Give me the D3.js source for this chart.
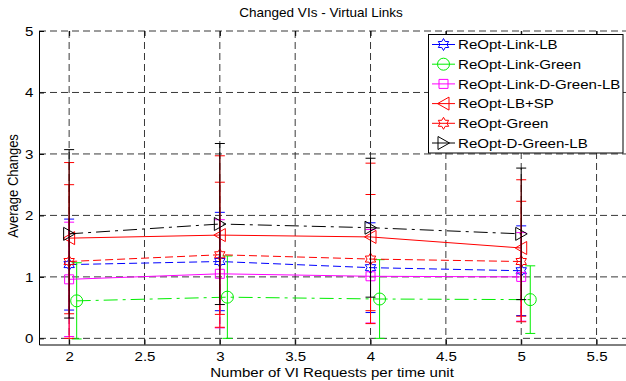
<!DOCTYPE html>
<html>
<head>
<meta charset="utf-8">
<script src="https://cdn.jsdelivr.net/npm/d3@7"></script>
<style>
  body { margin: 0; background: #fff; }
  svg { display: block; font-family: "Liberation Sans", Arial, sans-serif; }
  .grid line { stroke: #222; stroke-dasharray: 7,4; stroke-width: 0.9; }
</style>
</head>
<body>
<svg id="chart" width="626" height="381"></svg>
<script>
// chart values
var xTicks = [2, 2.5, 3, 3.5, 4, 4.5, 5, 5.5];
var yTicks = [0, 1, 2, 3, 4, 5];
var requests = [2, 3, 4, 5];
var requestsShifted = [2.05, 3.05, 4.06, 5.06];

var seriesNames = ["ReOpt-Link-LB", "ReOpt-Link-Green", "ReOpt-Link-D-Green-LB",
                   "ReOpt-LB+SP", "ReOpt-Green", "ReOpt-D-Green-LB"];

var linkLbMean = [1.20, 1.25, 1.15, 1.10];
var linkLbErr = [0.74, 0.80, 0.73, 0.73];
var linkGreenMean = [0.61, 0.67, 0.64, 0.63];
var linkGreenErr = [0.62, 0.67, 0.64, 0.55];
var linkDGreenLbMean = [0.96, 1.05, 1.01, 1.00];
var linkDGreenLbErr = [0.93, 0.88, 0.76, 0.72];
var lbSpMean = [1.63, 1.68, 1.65, 1.47];
var lbSpErr = [1.23, 1.29, 1.20, 1.11];
var greenMean = [1.25, 1.36, 1.29, 1.25];
var greenErr = [1.25, 1.18, 1.05, 0.98];
var dGreenLbMean = [1.70, 1.86, 1.80, 1.70];
var dGreenLbErr = [1.37, 1.31, 1.13, 1.07];

var series = [
    {name: seriesNames[0], xs: requests, mean: linkLbMean, err: linkLbErr},
    {name: seriesNames[1], xs: requestsShifted, mean: linkGreenMean, err: linkGreenErr},
    {name: seriesNames[2], xs: requests, mean: linkDGreenLbMean, err: linkDGreenLbErr},
    {name: seriesNames[3], xs: requests, mean: lbSpMean, err: lbSpErr},
    {name: seriesNames[4], xs: requests, mean: greenMean, err: greenErr},
    {name: seriesNames[5], xs: requests, mean: dGreenLbMean, err: dGreenLbErr}
];

// look of each series (matlab-like)
var styles = [
    {color: "#0000ff", dash: "8,4", marker: "hexagram"},
    {color: "#00ee00", dash: "14,5,3,5", marker: "circle"},
    {color: "#ff00ff", dash: null, marker: "square"},
    {color: "#ff0000", dash: null, marker: "triLeft"},
    {color: "#ff0000", dash: "8,4", marker: "hexagram"},
    {color: "#000000", dash: "14,5,3,5", marker: "triRight"}
];

var stretch = 1.16; // the figure is a bit wider than tall
var fontSize = 13;

var svg = d3.select("#chart");
var x = d3.scaleLinear().domain([1.8, 5.7]).range([39, 626.7]);
var y = d3.scaleLinear().domain([-0.1, 5]).range([344.5, 31]);

// grid
var grid = svg.append("g").attr("class", "grid");
grid.selectAll(".gx").data(xTicks).enter().append("line")
    .attr("x1", d => x(d)).attr("x2", d => x(d))
    .attr("y1", y(5)).attr("y2", y(-0.1));
grid.selectAll(".gy").data(yTicks).enter().append("line")
    .attr("x1", x(1.8)).attr("x2", x(5.7))
    .attr("y1", d => y(d)).attr("y2", d => y(d));

// axes
var xAxis = svg.append("g")
    .attr("transform", "translate(0," + y(-0.1) + ")")
    .call(d3.axisBottom(x).tickValues(xTicks).tickSize(-5).tickSizeOuter(0).tickPadding(7)
        .tickFormat(d3.format("")));
var yAxis = svg.append("g")
    .attr("transform", "translate(" + x(1.8) + ",0)")
    .call(d3.axisLeft(y).tickValues(yTicks).tickSize(-5).tickSizeOuter(0).tickFormat(d3.format("d")));
svg.append("g")
    .attr("transform", "translate(0," + y(5) + ")")
    .call(d3.axisTop(x).tickValues(xTicks).tickSize(-5).tickSizeOuter(0).tickFormat(""))
    .select(".domain").remove();

[xAxis, yAxis].forEach(function (g) {
    g.select(".domain").attr("stroke", "#000");
    g.selectAll(".tick line").attr("stroke", "#000");
    g.selectAll(".tick text")
        .attr("fill", "#000")
        .attr("font-size", fontSize)
        .attr("font-family", "Liberation Sans, Arial, sans-serif");
});
xAxis.selectAll(".tick text").attr("transform", "scale(" + stretch + ",1)");
yAxis.selectAll(".tick text")
    .attr("x", 0)
    .attr("transform", "translate(-5.5,0) scale(" + stretch + ",1)");

// marker shapes
function markerPath(type) {
    var p = d3.path();
    if (type === "hexagram") {
        var R = 6, r = R / Math.sqrt(3);
        for (var k = 0; k < 12; k++) {
            var a = -Math.PI / 2 + k * Math.PI / 6;
            var rr = k % 2 === 0 ? R : r;
            if (k === 0) p.moveTo(rr * Math.cos(a), rr * Math.sin(a));
            else p.lineTo(rr * Math.cos(a), rr * Math.sin(a));
        }
        p.closePath();
    } else if (type === "circle") {
        p.arc(0, 0, 6, 0, 2 * Math.PI);
    } else if (type === "square") {
        p.rect(-4.5, -4.5, 9, 9);
    } else if (type === "triLeft") {
        p.moveTo(-6, 0); p.lineTo(5.5, -6.5); p.lineTo(5.5, 6.5); p.closePath();
    } else if (type === "triRight") {
        p.moveTo(6, 0); p.lineTo(-5.5, -6.5); p.lineTo(-5.5, 6.5); p.closePath();
    }
    return p.toString();
}

var line = d3.line().x(d => x(d.x)).y(d => y(d.m));

series.forEach(function (s, i) {
    var st = styles[i];
    var pts = s.xs.map(function (v, j) { return {x: v, m: s.mean[j], e: s.err[j]}; });
    var g = svg.append("g");

    // error bars
    var eb = g.selectAll(".eb").data(pts).enter().append("g")
        .attr("stroke", st.color).attr("stroke-width", 1).attr("fill", "none");
    eb.append("line")
        .attr("x1", d => x(d.x)).attr("x2", d => x(d.x))
        .attr("y1", d => y(d.m - d.e)).attr("y2", d => y(d.m + d.e));
    eb.append("line")
        .attr("x1", d => x(d.x) - 5).attr("x2", d => x(d.x) + 5)
        .attr("y1", d => y(d.m + d.e)).attr("y2", d => y(d.m + d.e));
    eb.append("line")
        .attr("x1", d => x(d.x) - 5).attr("x2", d => x(d.x) + 5)
        .attr("y1", d => y(d.m - d.e)).attr("y2", d => y(d.m - d.e));

    // mean line
    g.append("path").datum(pts)
        .attr("d", line)
        .attr("fill", "none")
        .attr("stroke", st.color)
        .attr("stroke-width", 1)
        .attr("stroke-dasharray", st.dash);

    // markers
    g.selectAll(".mk").data(pts).enter().append("path")
        .attr("d", markerPath(st.marker))
        .attr("transform", d => "translate(" + x(d.x) + "," + y(d.m) + ")")
        .attr("fill", "none")
        .attr("stroke", st.color)
        .attr("stroke-width", 1);
});

// legend
var legend = svg.append("g");
legend.append("rect")
    .attr("x", 428.5).attr("y", 34.5).attr("width", 194.5).attr("height", 118.5)
    .attr("fill", "#fff").attr("stroke", "#000").attr("stroke-width", 1);
seriesNames.forEach(function (name, i) {
    var st = styles[i];
    var ly = 44.5 + i * 19.7;
    legend.append("line")
        .attr("x1", 432).attr("x2", 455).attr("y1", ly).attr("y2", ly)
        .attr("stroke", st.color).attr("stroke-width", 1);
    legend.append("path")
        .attr("d", markerPath(st.marker))
        .attr("transform", "translate(443.5," + ly + ")")
        .attr("fill", "none").attr("stroke", st.color);
    legend.append("text")
        .attr("transform", "translate(458," + (ly + 4.7) + ") scale(" + stretch + ",1)")
        .attr("font-size", fontSize)
        .text(name);
});

// titles
svg.append("text")
    .attr("transform", "translate(321,17) scale(1.04,1)")
    .attr("text-anchor", "middle")
    .attr("font-size", fontSize)
    .text("Changed VIs - Virtual Links");
svg.append("text")
    .attr("transform", "translate(332,376.5) scale(" + stretch + ",1)")
    .attr("text-anchor", "middle")
    .attr("font-size", fontSize)
    .text("Number of VI Requests per time unit");
svg.append("text")
    .attr("transform", "translate(18,186) scale(" + stretch + ",1) rotate(-90)")
    .attr("text-anchor", "middle")
    .attr("font-size", fontSize)
    .text("Average Changes");
</script>
</body>
</html>
